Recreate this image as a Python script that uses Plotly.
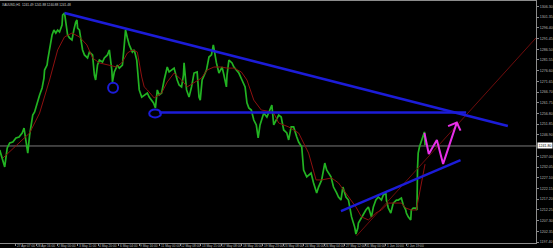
import plotly.graph_objects as go

# ---- data (x = H1 bar index, y = price) ----
price_bar = [-26, -22, -18, -14, -10, -5, 0, 5, 10, 13, 16, 19, 22, 27, 30, 35, 38, 42, 45, 46,
             50, 51, 54, 58, 61, 64, 67, 70, 74, 75, 78, 82, 83, 86, 90, 93, 96, 98, 99, 102,
             106, 107, 110, 115, 118, 123, 126, 128, 131, 134, 139, 142, 147, 150, 154, 155, 158, 163, 166, 171,
             174, 176, 179, 182, 187, 190, 194, 195, 198, 202, 206, 211, 214, 218, 221, 224, 227, 230, 234, 238,
             243, 246, 250, 254, 259, 262, 266, 269, 270, 272, 274, 278, 282, 286, 291, 294, 296, 299, 302, 306,
             310, 314, 317, 320, 322, 326, 331, 334, 338, 339, 342, 347, 350, 354, 358, 363, 368, 371, 374, 378,
             382, 386, 389, 392, 394, 398, 403, 406, 410, 411, 414, 419, 422, 426, 430, 435, 438, 442, 446, 451,
             454, 459, 462, 467, 470, 474, 478, 483, 486, 491, 496, 499, 506, 510, 515, 518, 522, 525, 530, 534,
             539, 544, 546, 549, 550, 555, 562, 566, 571, 574, 578, 582, 587, 590, 594, 595, 598, 602, 606, 611,
             614, 619, 622, 626, 627, 630, 634, 635, 638, 642, 644, 645, 646, 648, 650, 654, 656, 657]
price_val = [1239.9, 1236.2, 1232.1, 1240.9, 1243.2, 1243.6, 1245.5, 1245.9, 1247.8, 1250.1, 1244.6, 1238.5, 1246.9, 1256.1, 1257.5, 1263.0, 1265.4, 1268.6, 1273.2, 1276.9,
             1279.2, 1281.5, 1286.2, 1293.1, 1295.4, 1294.0, 1295.4, 1294.5, 1297.7, 1302.3, 1303.3, 1295.4, 1293.1, 1291.7, 1290.8, 1295.4, 1299.1, 1300.0, 1296.3, 1295.4,
             1288.5, 1286.2, 1283.9, 1282.5, 1285.2, 1283.9, 1274.6, 1272.3, 1279.2, 1281.5, 1280.6, 1282.5, 1283.9, 1286.2, 1276.9, 1271.4, 1276.0, 1279.2, 1277.8, 1279.2,
             1288.5, 1295.4, 1291.7, 1288.5, 1285.2, 1286.2, 1281.5, 1278.3, 1267.7, 1264.4, 1265.4, 1266.3, 1264.4, 1263.0, 1261.7, 1259.4, 1267.7, 1265.4, 1266.3, 1272.3,
             1278.3, 1276.0, 1276.9, 1277.8, 1272.3, 1270.0, 1269.1, 1274.6, 1280.2, 1272.3, 1267.7, 1264.4, 1269.1, 1275.5, 1276.0, 1264.4, 1263.0, 1272.3, 1274.6, 1276.9,
             1282.9, 1283.9, 1288.5, 1282.5, 1280.2, 1275.5, 1278.3, 1274.6, 1269.1, 1274.6, 1281.5, 1280.2, 1278.3, 1276.9, 1275.5, 1272.3, 1269.1, 1261.7, 1259.4, 1258.4,
             1253.8, 1251.5, 1245.5, 1251.5, 1253.8, 1257.0, 1255.2, 1257.0, 1259.8, 1260.7, 1251.5, 1254.7, 1256.1, 1255.2, 1249.2, 1247.8, 1244.6, 1250.6, 1250.6, 1245.9,
             1243.6, 1241.3, 1230.7, 1227.5, 1228.4, 1229.3, 1224.7, 1220.1, 1222.8, 1226.1, 1233.9, 1230.7, 1227.5, 1222.8, 1220.1, 1218.2, 1216.8, 1222.8, 1218.2, 1216.8,
             1209.0, 1204.3, 1201.1, 1203.9, 1206.2, 1209.0, 1212.2, 1213.6, 1209.0, 1213.6, 1216.8, 1218.2, 1216.8, 1219.1, 1220.1, 1216.8, 1213.1, 1210.8, 1215.4, 1216.8,
             1216.8, 1217.7, 1214.5, 1212.2, 1210.8, 1209.0, 1207.6, 1212.2, 1213.1, 1213.1, 1212.2, 1232.1, 1238.5, 1241.3, 1243.2, 1245.9, 1248.3, 1242.2]

ma_bar = [-21, 6, 22, 38, 54, 67, 78, 90, 102, 114, 123, 134, 150, 162, 171, 179, 187, 195, 202, 206,
          211, 222, 234, 243, 254, 266, 275, 286, 298, 307, 318, 330, 339, 350, 362, 371, 382, 394, 403, 414,
          422, 438, 454, 470, 482, 491, 507, 518, 534, 546, 555, 566, 578, 587, 598, 610, 619, 626, 635, 643,
          650, 654, 657]
ma_val = [1236.2, 1243.2, 1247.8, 1257.0, 1272.3, 1286.2, 1292.2, 1294.0, 1292.2, 1288.5, 1282.5, 1280.2, 1279.2, 1278.3, 1280.6, 1284.8, 1286.2, 1285.2, 1273.7, 1269.1,
          1267.7, 1264.0, 1266.3, 1271.4, 1275.5, 1272.3, 1269.1, 1270.9, 1273.2, 1276.9, 1278.3, 1278.3, 1277.8, 1277.8, 1276.0, 1272.3, 1263.0, 1258.4, 1258.0, 1257.0,
          1252.4, 1250.6, 1247.8, 1238.5, 1226.1, 1226.1, 1227.0, 1224.7, 1218.2, 1213.6, 1209.0, 1207.6, 1210.8, 1212.2, 1215.4, 1215.4, 1215.4, 1213.1, 1212.2, 1212.2,
          1222.8, 1230.7, 1233.4]

# drawn objects (bar, price)
upper_trend_bar = [78, 790]
upper_trend_val = [1303.3, 1251.0]
support_bar = [230, 723]
support_val = [1257.3, 1257.3]
lower_trend_bar = [522, 714]
lower_trend_val = [1211.7, 1235.3]
red_ray_bar = [547, 835]
red_ray_val = [1200.2, 1291.7]
zigzag_bar = [656, 663, 676, 686, 708]
zigzag_val = [1247.8, 1238.1, 1244.6, 1233.5, 1252.6]
arrow_head_bar = [694, 708, 714]
arrow_head_val = [1251.0, 1252.6, 1248.9]
circle1 = dict(b0=148, b1=164, p0=1266.4, p1=1271.0)
circle2 = dict(b0=214, b1=233, p0=1255.0, p1=1258.7)

current_price = 1241.8
current_label = "1241.80"

y_tick_vals = [1197.40, 1202.35, 1207.30, 1212.25, 1217.20, 1222.15, 1227.10, 1232.05, 1237.00,
               1246.90, 1251.85, 1256.80, 1261.75, 1266.70, 1271.65, 1276.60, 1281.55, 1286.50,
               1291.45, 1296.40, 1301.35, 1306.30]
y_tick_text = ["%.2f" % v for v in y_tick_vals]

x_tick_bars = [-33, 0, 33, 66, 99, 132, 165, 198, 231, 264, 297, 330, 363, 396, 429, 462, 495, 528, 561, 594, 627]
x_tick_text = ["26 Apr 2016", "27 Apr 07:00", "28 Apr 16:00", "2 May 00:00", "3 May 11:00", "4 May 20:00",
               "6 May 04:00", "9 May 16:00", "11 May 00:00", "12 May 08:00", "13 May 15:00", "17 May 08:00",
               "18 May 16:00", "19 May 23:00", "23 May 08:00", "24 May 16:00", "26 May 04:00", "27 May 12:00",
               "31 May 00:00", "1 Jun 10:00", "2 Jun 19:00"]

title_text = "XAUUSD,H1  1241.49 1241.88 1240.88 1241.48"

BLUE = "#1c1cd8"
GREY = "#8c8c8c"

fig = go.Figure()

# bid line
fig.add_trace(go.Scatter(x=[-40, 900], y=[current_price, current_price], mode="lines",
                         line=dict(color="#7a7a7a", width=1), hoverinfo="skip"))
# price
fig.add_trace(go.Scatter(x=price_bar, y=price_val, mode="lines",
                         line=dict(color="#22b322", width=1.7)))
# moving average
fig.add_trace(go.Scatter(x=ma_bar, y=ma_val, mode="lines", line=dict(color="#8e1010", width=1)))
# red ray
fig.add_trace(go.Scatter(x=red_ray_bar, y=red_ray_val, mode="lines", line=dict(color="#6e0c0c", width=1)))
# blue lines
fig.add_trace(go.Scatter(x=upper_trend_bar, y=upper_trend_val, mode="lines", line=dict(color=BLUE, width=2.6)))
fig.add_trace(go.Scatter(x=support_bar, y=support_val, mode="lines", line=dict(color=BLUE, width=2.4)))
fig.add_trace(go.Scatter(x=lower_trend_bar, y=lower_trend_val, mode="lines", line=dict(color=BLUE, width=2.4)))
# magenta zigzag + arrow head
fig.add_trace(go.Scatter(x=zigzag_bar, y=zigzag_val, mode="lines", line=dict(color="#e830e8", width=2)))
fig.add_trace(go.Scatter(x=arrow_head_bar, y=arrow_head_val, mode="lines", line=dict(color="#e830e8", width=2)))

for c in (circle1, circle2):
    fig.add_shape(type="circle", xref="x", yref="y", x0=c["b0"], x1=c["b1"], y0=c["p0"], y1=c["p1"],
                  line=dict(color=BLUE, width=2))

# time labels (left-aligned at their tick, like the terminal)
for b, t in zip(x_tick_bars, x_tick_text):
    fig.add_annotation(x=b, y=0, xref="x", yref="paper", text=t, showarrow=False,
                       xanchor="left", yanchor="top", yshift=0, borderpad=0,
                       font=dict(family="Liberation Sans", size=3.2, color="#b8b8b8"))

# current price tag
fig.add_annotation(x=1, y=current_price, xref="paper", yref="y", text=current_label, showarrow=False,
                   xanchor="left", yanchor="middle", xshift=1, bgcolor="#ffffff", borderpad=0.6,
                   font=dict(family="Liberation Sans", size=3.6, color="#000000"))

# title
fig.add_annotation(x=0, y=1, xref="paper", yref="paper", text=title_text, showarrow=False,
                   xanchor="left", yanchor="top", xshift=1, yshift=-0.5, borderpad=0,
                   font=dict(family="Liberation Sans", size=3.2, color="#d0d0d0"))

fig.update_layout(
    width=553, height=248,
    margin=dict(l=0, r=15, t=1, b=5),
    paper_bgcolor="#000000", plot_bgcolor="#000000",
    showlegend=False,
    xaxis=dict(range=[-25.6, 835.2], showgrid=False, zeroline=False,
               showline=True, mirror=True, linecolor=GREY, linewidth=1,
               tickmode="array", tickvals=x_tick_bars, ticks="outside", ticklen=2,
               tickcolor=GREY, showticklabels=False),
    yaxis=dict(range=[1196.94, 1308.82], side="right", showgrid=False, zeroline=False,
               showline=True, linecolor=GREY, linewidth=1,
               tickmode="array", tickvals=y_tick_vals, ticktext=y_tick_text,
               ticks="outside", ticklen=2, tickcolor=GREY,
               tickfont=dict(family="Liberation Sans", size=3.6, color="#b8b8b8")),
)

fig.write_html("out.html")
